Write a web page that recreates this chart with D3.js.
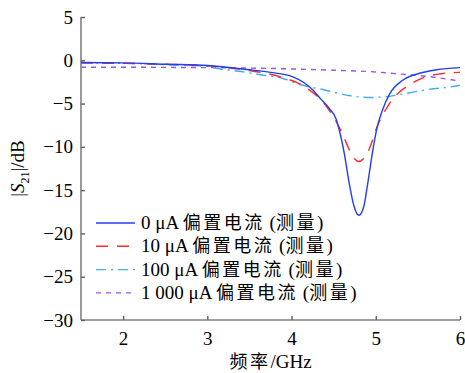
<!DOCTYPE html>
<html>
<head>
<meta charset="utf-8">
<script src="https://cdn.jsdelivr.net/npm/d3@7"></script>
<style>
body { margin: 0; background: #fff; }
text { font-family: "Liberation Serif", "Noto Sans CJK SC", serif; fill: #000; }
</style>
</head>
<body>
<div id="chart"></div>
<script>
// |S21| measured vs frequency, four bias currents
var xTicks = [2, 3, 4, 5, 6];
var yTicks = [5, 0, -5, -10, -15, -20, -25, -30];

var freq0 = [1.5, 2, 2.5, 3, 3.5, 3.75, 4, 4.15, 4.25, 4.34, 4.45, 4.53, 4.565, 4.625, 4.69, 4.74, 4.8, 4.86, 4.9, 4.96, 5.01, 5.07, 5.17, 5.32, 5.52, 5.72, 6];
var s0 = [-0.25, -0.3, -0.45, -0.6, -1.1, -1.4, -1.85, -2.6, -3.4, -4.4, -5.6, -6.8, -8.0, -10.7, -14.5, -16.8, -17.9, -16.8, -14.5, -10.7, -8.0, -6.0, -3.8, -2.3, -1.5, -1.1, -0.85];

var freq10 = [1.5, 2, 2.5, 3, 3.5, 3.86, 4.18, 4.42, 4.59, 4.69, 4.75, 4.8, 4.85, 4.92, 5.01, 5.17, 5.44, 5.74, 6];
var s10 = [-0.3, -0.35, -0.45, -0.65, -1.2, -1.9, -3.2, -5.4, -8.2, -10.4, -11.4, -11.7, -11.4, -10.3, -7.8, -4.9, -2.6, -1.6, -1.4];

var freq100 = [1.5, 2, 2.5, 3, 3.15, 3.4, 3.65, 3.9, 4.1, 4.38, 4.7, 4.93, 5.13, 5.32, 5.6, 5.94, 6];
var s100 = [-0.3, -0.35, -0.5, -0.7, -1.0, -1.3, -1.7, -2.1, -2.8, -3.4, -4.1, -4.3, -4.2, -3.9, -3.4, -3.0, -2.9];

var freq1000 = [1.5, 2, 2.5, 3, 3.5, 4, 4.5, 5, 5.3, 5.6, 5.9, 6];
var s1000 = [-0.8, -0.8, -0.82, -0.85, -0.9, -1.0, -1.15, -1.35, -1.6, -1.85, -2.25, -2.4];

var names = ["0 μA 偏置电流 (测量)", "10 μA 偏置电流 (测量)", "100 μA 偏置电流 (测量)", "1 000 μA 偏置电流 (测量)"];

var series = [
  { name: names[0], x: freq0, y: s0, color: "#1f3ff0", dash: null },
  { name: names[1], x: freq10, y: s10, color: "#ff2a2a", dash: "12,9" },
  { name: names[2], x: freq100, y: s100, color: "#3aaef0", dash: "10,5,2,5" },
  { name: names[3], x: freq1000, y: s1000, color: "#a050f0", dash: "5,5" }
];

var W = 465, H = 373;
var margin = {top: 17, right: 5, bottom: 53, left: 81};
var width = W - margin.left - margin.right,
    height = H - margin.top - margin.bottom;

var svg = d3.select("#chart").append("svg")
  .attr("width", W).attr("height", H);

var g = svg.append("g")
  .attr("transform", "translate(" + margin.left + "," + margin.top + ")");

var x = d3.scaleLinear().domain([1.5, 6]).range([0, width]);
var y = d3.scaleLinear().domain([-30, 5]).range([height, 0]);

var fmt = function(d) { return d < 0 ? "\u2212" + Math.abs(d) : String(d); };

var gx = g.append("g")
  .attr("transform", "translate(0," + height + ")")
  .call(d3.axisBottom(x).tickValues(xTicks).tickSize(-4).tickPadding(12).tickFormat(fmt));
var gy = g.append("g")
  .call(d3.axisLeft(y).tickValues(yTicks).tickSize(-4).tickPadding(8).tickFormat(fmt));

[gx, gy].forEach(function(a) {
  a.select(".domain").attr("stroke", "#808080").attr("stroke-width", 1.6);
  a.selectAll(".tick line").attr("stroke", "#606060").attr("stroke-width", 1.4);
  a.selectAll(".tick text").attr("font-size", 19).attr("font-family", "Liberation Serif").attr("fill", "#000");
});
gx.select(".domain").attr("d", "M0,0H" + width);
gy.select(".domain").attr("d", "M0," + height + "V0");

var line = d3.line()
  .x(function(d) { return x(d[0]); })
  .y(function(d) { return y(d[1]); })
  .curve(d3.curveMonotoneX);

// draw back to front so the solid curve sits on top
series.slice().reverse().forEach(function(s) {
  g.append("path")
    .datum(d3.zip(s.x, s.y))
    .attr("fill", "none")
    .attr("stroke", s.color)
    .attr("stroke-width", 1.4)
    .attr("stroke-dasharray", s.dash)
    .attr("d", line);
});

// put CJK runs in their own font, like the original
function addMixed(sel, str) {
  str.split(/([\u4e00-\u9fff]+)/).forEach(function(part) {
    if (!part) return;
    var t = sel.append("tspan").text(part);
    if (/[\u4e00-\u9fff]/.test(part)) {
      t.attr("font-family", "Noto Sans CJK SC").attr("font-size", 18).attr("letter-spacing", 2.5);
    }
  });
}

var legend = g.append("g").attr("transform", "translate(15,206)");
series.forEach(function(s, i) {
  var row = legend.append("g").attr("transform", "translate(0," + (i * 23.3) + ")");
  row.append("line")
    .attr("x1", 0).attr("x2", 39).attr("y1", 0).attr("y2", 0)
    .attr("stroke", s.color).attr("stroke-width", 1.4)
    .attr("stroke-dasharray", s.dash);
  var t = row.append("text")
    .attr("x", 45).attr("y", 6)
    .attr("font-size", 19);
  addMixed(t, s.name);
});

svg.append("text")
  .attr("transform", "translate(24," + (margin.top + height / 2) + ") rotate(-90)")
  .attr("text-anchor", "middle")
  .attr("font-size", 19)
  .html('|<tspan font-style="italic">S</tspan><tspan font-size="12" dy="5">21</tspan><tspan dy="-5">|/dB</tspan>');

var xl = svg.append("text")
  .attr("x", margin.left + width / 2)
  .attr("y", 368)
  .attr("text-anchor", "middle")
  .attr("font-size", 19);
addMixed(xl, "频率/GHz");
</script>
</body>
</html>
